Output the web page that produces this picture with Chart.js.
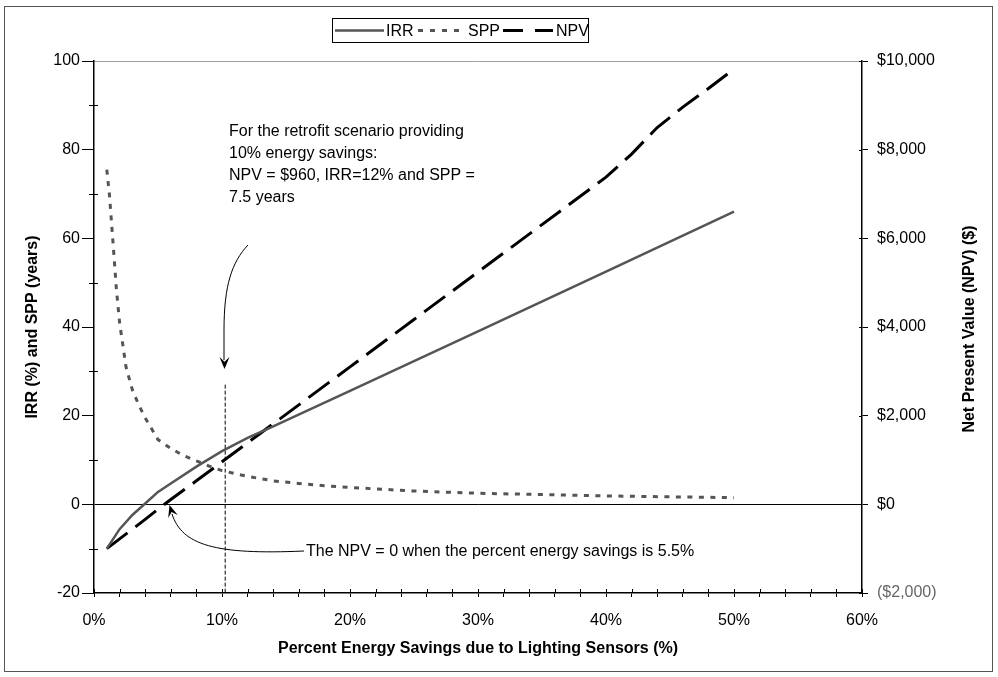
<!DOCTYPE html>
<html>
<head>
<meta charset="utf-8">
<script src="https://cdn.jsdelivr.net/npm/chart.js@4.4.1/dist/chart.umd.min.js"></script>
<style>
html,body{margin:0;padding:0;background:#fff;}
#wrap{width:998px;height:677px;}
</style>
</head>
<body>
<div id="wrap"><canvas id="c" width="998" height="677"></canvas></div>
<script>
// ---- data ----
const irrX = [1, 2, 3, 4, 5, 6, 8, 10, 12, 14, 20, 30, 40, 50];
const irrY = [-10, -5.6, -2.4, 0.2, 2.8, 4.7, 8.5, 12, 15, 17.6, 25.6, 39, 52.5, 66];

const sppX = [1, 1.2, 1.5, 1.75, 2, 2.5, 3, 3.5, 4, 5, 6, 7, 8, 9, 10, 12, 14, 16, 18, 20, 25, 30, 35, 40, 45, 50];
const sppY = [75.5, 70, 58.5, 48.5, 41, 31, 25.8, 22.4, 19.5, 14.6, 12.6, 11, 9.8, 8.6, 7.6, 6.3, 5.3, 4.7, 4.2, 3.8, 3.0, 2.5, 2.2, 1.9, 1.7, 1.5];

const npvX = [1, 2, 3, 4, 5, 6, 8, 10, 15, 20, 25, 30, 35, 40, 42, 44, 46, 48, 50];
const npvY = [-1000, -780, -560, -340, -110, 110, 530, 960, 2030, 3100, 4170, 5240, 6310, 7380, 7900, 8500, 8960, 9380, 9820];

const seriesNames = ['IRR', 'SPP', 'NPV'];
const xTitle = 'Percent Energy Savings due to Lighting Sensors (%)';
const yTitle = 'IRR (%) and SPP (years)';
const y2Title = 'Net Present Value (NPV) ($)';
const note1 = ['For the retrofit scenario providing', '10% energy savings:', 'NPV = $960, IRR=12% and SPP =', '7.5 years'];
const note2 = 'The NPV = 0 when the percent energy savings is 5.5%';
const markerX = 10.25; // vertical dashed marker (percent)

const pts = (xs, ys) => xs.map((x, i) => ({x: x, y: ys[i]}));
const FONT = '"Liberation Sans", Arial, Helvetica, sans-serif';
Chart.defaults.font.family = FONT;
Chart.defaults.font.size = 16;
Chart.defaults.color = '#000';

const money = v => {
  const s = Math.abs(v).toLocaleString('en-US');
  return v < 0 ? '($' + s + ')' : '$' + s;
};

const styles = {
  IRR: {color: '#555', width: 2.5, dash: []},
  SPP: {color: '#555', width: 3, dash: [5, 6.5]},
  NPV: {color: '#000', width: 3, dash: [26, 10]}
};

function arrowHead(ctx, tx, ty, ang, len, half) {
  ctx.beginPath();
  ctx.moveTo(tx, ty);
  ctx.lineTo(tx - len * Math.cos(ang) + half * Math.sin(ang), ty - len * Math.sin(ang) - half * Math.cos(ang));
  ctx.lineTo(tx - 0.6 * len * Math.cos(ang), ty - 0.6 * len * Math.sin(ang));
  ctx.lineTo(tx - len * Math.cos(ang) - half * Math.sin(ang), ty - len * Math.sin(ang) + half * Math.cos(ang));
  ctx.closePath();
  ctx.fill();
}

const extras = {
  id: 'extras',
  beforeDatasetsDraw(chart) {
    const {ctx, scales} = chart;
    const x = scales.x.getPixelForValue(markerX);
    ctx.save();
    ctx.strokeStyle = '#000';
    ctx.lineWidth = 1;
    ctx.setLineDash([4, 2]);
    ctx.beginPath();
    ctx.moveTo(x, scales.y.getPixelForValue(27));
    ctx.lineTo(x, scales.y.getPixelForValue(-20));
    ctx.stroke();
    ctx.restore();
  },
  afterDraw(chart) {
    const {ctx, scales, chartArea} = chart;
    ctx.save();
    // inner parts of the crossing tick marks
    ctx.strokeStyle = '#000';
    ctx.lineWidth = 1;
    ctx.beginPath();
    scales.x.ticks.forEach(t => {
      const px = Math.round(scales.x.getPixelForValue(t.value)) + 0.5;
      ctx.moveTo(px, chartArea.bottom);
      ctx.lineTo(px, chartArea.bottom - 4);
    });
    scales.y.ticks.forEach(t => {
      if (t.value % 20 !== 0) {
        const py = Math.round(scales.y.getPixelForValue(t.value)) + 0.5;
        ctx.moveTo(chartArea.left - 5, py);
        ctx.lineTo(chartArea.left + 4, py);
      }
    });
    scales.y2.ticks.forEach(t => {
      const py = Math.round(scales.y2.getPixelForValue(t.value)) + 0.5;
      ctx.moveTo(chartArea.right, py);
      ctx.lineTo(chartArea.right - 3, py);
    });
    ctx.stroke();

    // outer frame
    ctx.strokeStyle = '#555';
    ctx.strokeRect(4.5, 6.5, 988, 665);

    // right axis title (reads bottom-to-top)
    ctx.fillStyle = '#000';
    ctx.font = 'bold 16px ' + FONT;
    ctx.textAlign = 'center';
    ctx.textBaseline = 'middle';
    ctx.translate(970, (scales.y2.top + scales.y2.bottom) / 2 + 2);
    ctx.rotate(-Math.PI / 2);
    ctx.fillText(y2Title, 0, 0);
    ctx.setTransform(1, 0, 0, 1, 0, 0);

    // legend
    ctx.strokeStyle = '#000';
    ctx.lineWidth = 1;
    ctx.strokeRect(332.5, 18.5, 256, 24);
    ctx.font = '16px ' + FONT;
    ctx.textAlign = 'left';
    const ly = 30.5;
    const items = [
      {name: seriesNames[0], x0: 335, x1: 384, tx: 386},
      {name: seriesNames[1], x0: 418, x1: 460, tx: 468},
      {name: seriesNames[2], x0: 503, x1: 553, tx: 556}
    ];
    const legendDash = {IRR: [], SPP: [5, 7], NPV: [20, 12]};
    items.forEach(it => {
      const st = styles[it.name];
      ctx.strokeStyle = st.color;
      ctx.lineWidth = st.width;
      ctx.setLineDash(legendDash[it.name]);
      ctx.beginPath();
      ctx.moveTo(it.x0, ly);
      ctx.lineTo(it.x1, ly);
      ctx.stroke();
      ctx.setLineDash([]);
      ctx.fillStyle = '#000';
      ctx.fillText(it.name, it.tx, ly + 1);
    });

    // annotation 1
    ctx.fillStyle = '#000';
    ctx.textBaseline = 'middle';
    note1.forEach((t, i) => ctx.fillText(t, 229, 132 + i * 22));
    ctx.strokeStyle = '#000';
    ctx.lineWidth = 1;
    ctx.beginPath();
    ctx.moveTo(248, 245);
    ctx.bezierCurveTo(232, 262, 224, 285, 224, 330);
    ctx.lineTo(224, 360);
    ctx.stroke();
    arrowHead(ctx, 224.5, 369, Math.PI / 2, 12, 5);

    // annotation 2
    ctx.fillText(note2, 306, 552);
    ctx.beginPath();
    ctx.moveTo(304, 551);
    ctx.bezierCurveTo(215, 555, 182, 545, 172, 514);
    ctx.stroke();
    arrowHead(ctx, 169.5, 505, Math.atan2(-33, -10), 12, 5);
    ctx.restore();
  }
};

new Chart(document.getElementById('c'), {
  type: 'scatter',
  data: {
    datasets: [
      {label: seriesNames[0], data: pts(irrX, irrY), yAxisID: 'y', showLine: true,
       borderColor: styles.IRR.color, borderWidth: styles.IRR.width, pointRadius: 0, tension: 0},
      {label: seriesNames[1], data: pts(sppX, sppY), yAxisID: 'y', showLine: true,
       borderColor: styles.SPP.color, borderWidth: styles.SPP.width, borderDash: styles.SPP.dash, pointRadius: 0, tension: 0},
      {label: seriesNames[2], data: pts(npvX, npvY), yAxisID: 'y2', showLine: true,
       borderColor: styles.NPV.color, borderWidth: styles.NPV.width, borderDash: styles.NPV.dash, pointRadius: 0, tension: 0}
    ]
  },
  options: {
    responsive: false,
    animation: false,
    devicePixelRatio: 1,
    layout: {padding: {top: 61, left: 0, right: 0, bottom: 0}},
    plugins: {legend: {display: false}, tooltip: {enabled: false}},
    scales: {
      x: {
        type: 'linear', min: 0, max: 60,
        ticks: {stepSize: 2, autoSkip: false, maxRotation: 0, padding: 14,
                callback: v => (v % 10 === 0 ? v + '%' : '')},
        grid: {drawOnChartArea: false, tickLength: 4, color: '#000', tickColor: '#000'},
        border: {color: '#000', width: 1.5},
        title: {display: true, text: xTitle, font: {weight: 'bold', size: 16}, padding: {top: 0, bottom: 19}},
        afterFit: s => { s.height = 84; }
      },
      y: {
        position: 'left', min: -20, max: 100,
        ticks: {stepSize: 10, padding: 2, callback: v => (v % 20 === 0 ? v : '')},
        grid: {
          tickLength: 12, lineWidth: 1,
          tickColor: c => (c.tick && c.tick.value % 20 === 0 ? '#000' : 'rgba(0,0,0,0)'),
          color: c => (c.tick && c.tick.value === 100 ? '#a0a0a0' : (c.tick && c.tick.value === 0 ? '#000' : 'rgba(0,0,0,0)'))
        },
        border: {color: '#000', width: 1.5},
        title: {display: true, text: yTitle, font: {weight: 'bold', size: 16}, padding: {top: 23, bottom: 0}},
        afterFit: s => { s.width = 94; }
      },
      y2: {
        position: 'right', min: -2000, max: 10000,
        ticks: {stepSize: 2000, padding: 9, callback: v => money(v),
                color: c => (c.tick && c.tick.value < 0 ? '#666' : '#000')},
        grid: {drawOnChartArea: false, tickLength: 6, tickColor: '#000'},
        border: {color: '#000', width: 1.5},
        afterFit: s => { s.width = 136; }
      }
    }
  },
  plugins: [extras]
});
</script>
</body>
</html>
